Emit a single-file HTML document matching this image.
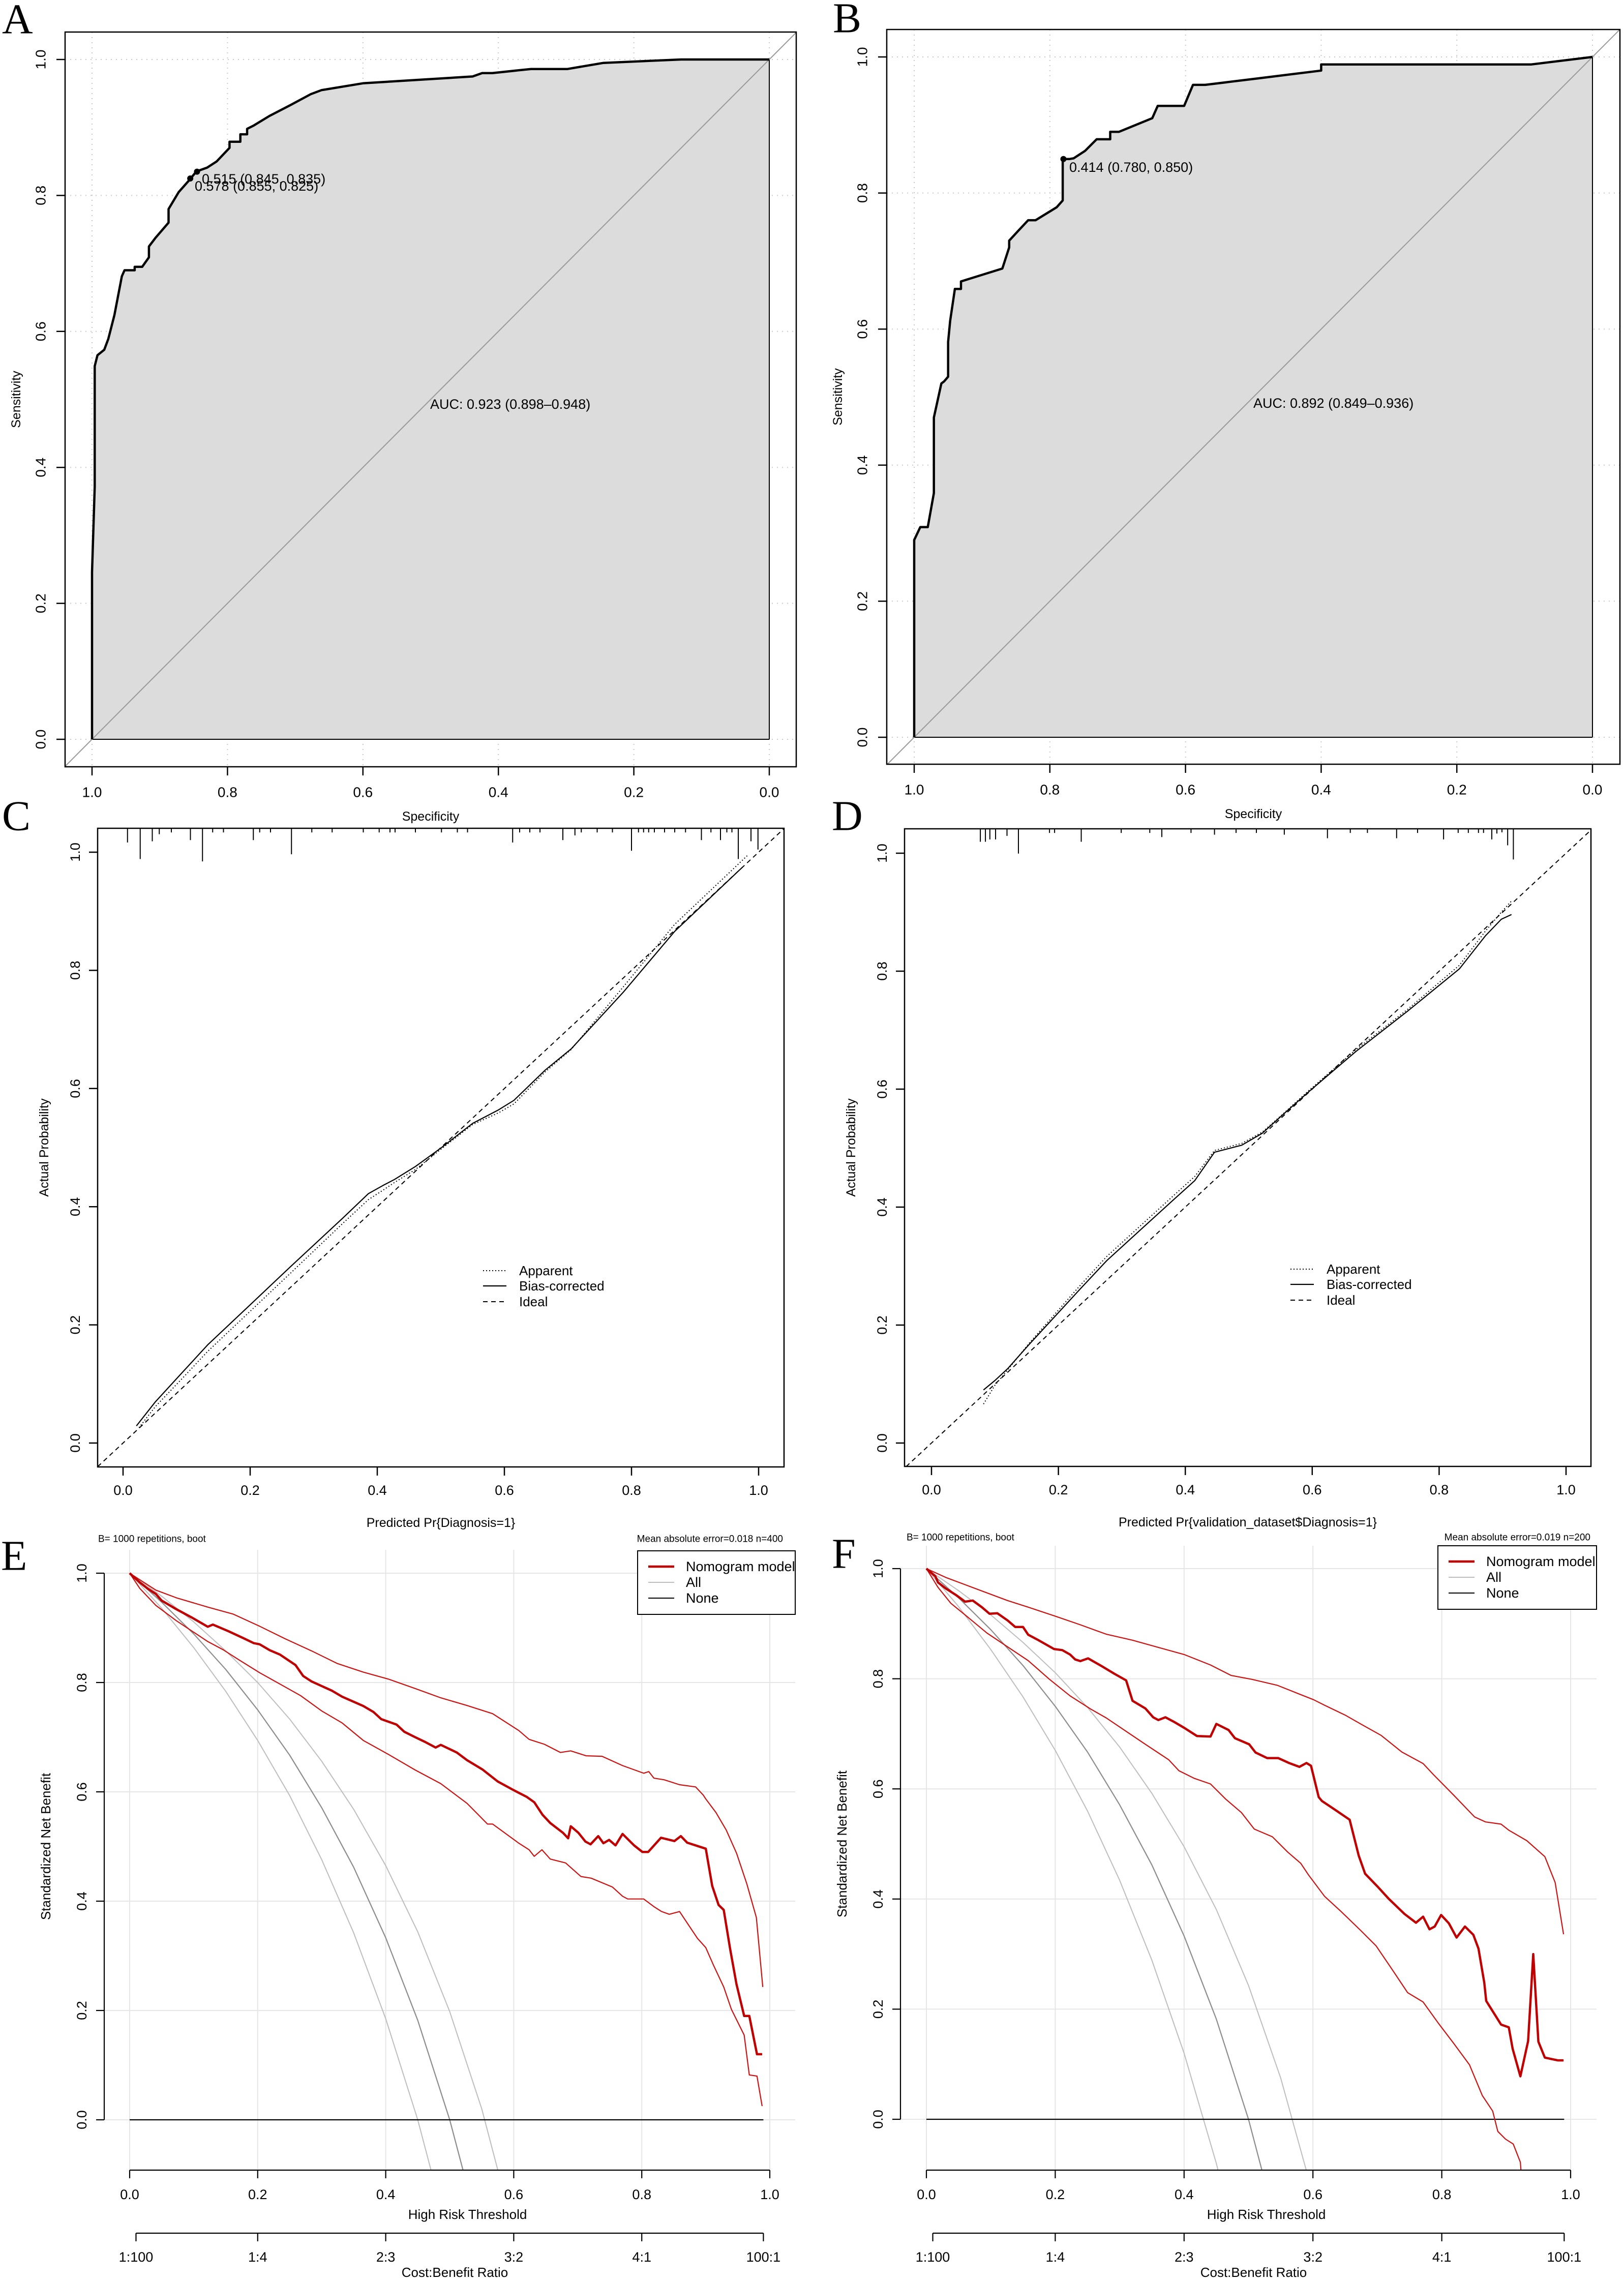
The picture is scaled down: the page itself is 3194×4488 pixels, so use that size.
<!DOCTYPE html>
<html><head><meta charset="utf-8"><style>
html,body{margin:0;padding:0;background:#fff;width:3194px;height:4488px;overflow:hidden;}
svg{display:block;font-family:"Liberation Sans",sans-serif;overflow:hidden;}
.pl{font-family:"Liberation Serif",serif;font-size:84px;}
</style></head><body>
<svg id="fig" width="3194" height="4488" viewBox="0 0 3194 4488" xmlns="http://www.w3.org/2000/svg"></svg>
<script>
// ---------- DATA ----------
const rocASpec=[1,1,0.996,0.996,0.992,0.982,0.976,0.967,0.956,0.952,0.937,0.937,0.926,0.916,0.916,0.906,0.887,0.887,0.872,0.856,0.847,0.841,0.830,0.816,0.797,0.797,0.781,0.781,0.771,0.771,0.761,0.738,0.707,0.677,0.661,0.600,0.438,0.424,0.409,0.352,0.298,0.245,0.130,0];
const rocASens=[0,0.246,0.372,0.549,0.565,0.573,0.589,0.624,0.681,0.690,0.690,0.695,0.695,0.709,0.725,0.738,0.760,0.780,0.805,0.823,0.834,0.837,0.841,0.850,0.870,0.879,0.879,0.890,0.890,0.898,0.903,0.917,0.933,0.949,0.955,0.965,0.975,0.980,0.980,0.986,0.986,0.995,1.0,1.0];
const rocBSpec=[1,1,0.991,0.980,0.971,0.971,0.960,0.956,0.950,0.950,0.947,0.940,0.931,0.931,0.870,0.860,0.860,0.847,0.832,0.821,0.790,0.781,0.781,0.771,0.765,0.748,0.731,0.711,0.711,0.698,0.649,0.641,0.602,0.589,0.571,0.489,0.400,0.400,0.090,0];
const rocBSens=[0,0.290,0.309,0.309,0.359,0.470,0.520,0.523,0.530,0.581,0.612,0.659,0.659,0.670,0.689,0.720,0.730,0.744,0.760,0.760,0.779,0.789,0.850,0.850,0.851,0.862,0.879,0.879,0.890,0.890,0.910,0.928,0.928,0.959,0.959,0.969,0.980,0.989,0.989,1.0];
const cPred=[0.021,0.051,0.092,0.133,0.199,0.264,0.346,0.386,0.409,0.427,0.460,0.501,0.550,0.591,0.615,0.664,0.705,0.787,0.868,0.975];
const cBias=[0.029,0.070,0.118,0.166,0.233,0.299,0.381,0.422,0.436,0.446,0.468,0.500,0.541,0.564,0.580,0.631,0.667,0.763,0.866,0.975];
const cAppPred=[0.025,0.051,0.092,0.133,0.199,0.264,0.346,0.386,0.409,0.427,0.460,0.501,0.550,0.591,0.615,0.664,0.705,0.787,0.868,0.982];
const cApp=[0.026,0.062,0.108,0.155,0.222,0.288,0.372,0.412,0.428,0.441,0.463,0.498,0.539,0.559,0.574,0.628,0.666,0.772,0.878,0.994];
const cRugX=[0.007,0.027,0.046,0.057,0.106,0.125,0.205,0.265,0.613,0.692,0.711,0.800,0.910,0.940,0.968,0.988,0.999,0.076,0.141,0.158,0.215,0.232,0.297,0.329,0.378,0.403,0.420,0.428,0.460,0.501,0.526,0.542,0.624,0.640,0.656,0.721,0.746,0.770,0.811,0.819,0.827,0.836,0.852,0.868,0.885,0.925,0.950,0.958];
const cRugH=[0.024,0.052,0.022,0.010,0.020,0.056,0.020,0.044,0.024,0.020,0.012,0.038,0.020,0.020,0.052,0.022,0.036,0.007,0.007,0.007,0.007,0.007,0.007,0.007,0.007,0.007,0.007,0.007,0.007,0.007,0.007,0.007,0.007,0.007,0.007,0.007,0.007,0.007,0.007,0.007,0.007,0.007,0.007,0.007,0.007,0.007,0.007,0.007];
const dPred=[0.082,0.100,0.120,0.153,0.194,0.235,0.276,0.333,0.382,0.415,0.446,0.489,0.521,0.554,0.595,0.669,0.750,0.832,0.873,0.898,0.914];
const dBias=[0.090,0.106,0.126,0.166,0.214,0.262,0.309,0.365,0.413,0.445,0.493,0.505,0.525,0.557,0.596,0.664,0.732,0.804,0.860,0.888,0.896];
const dApp=[0.066,0.098,0.124,0.168,0.218,0.268,0.316,0.372,0.420,0.452,0.496,0.508,0.527,0.558,0.598,0.667,0.735,0.810,0.868,0.900,0.919];
const dRugX=[0.077,0.085,0.092,0.101,0.119,0.137,0.236,0.363,0.446,0.556,0.624,0.733,0.807,0.883,0.891,0.899,0.908,0.917,0.186,0.194,0.299,0.344,0.409,0.480,0.512,0.660,0.687,0.766,0.830,0.846,0.862,0.870];
const dRugH=[0.022,0.022,0.018,0.018,0.012,0.042,0.022,0.014,0.010,0.010,0.016,0.016,0.018,0.018,0.008,0.006,0.028,0.052,0.007,0.007,0.007,0.007,0.007,0.007,0.007,0.007,0.007,0.007,0.007,0.007,0.007,0.007];
const allT=[0,0.05,0.1,0.15,0.2,0.25,0.3,0.35,0.4,0.45,0.5,0.55,0.6];
const allT1=[0,0.05,0.1,0.15,0.2,0.25,0.3,0.35,0.4,0.45,0.5,0.55];
const allT2=[0,0.05,0.1,0.15,0.2,0.25,0.3,0.35,0.4,0.45,0.5];
const allT3=[0,0.05,0.1,0.15,0.2,0.25,0.3,0.35,0.4,0.45,0.48];
const eAll=[1,0.947,0.889,0.824,0.75,0.667,0.571,0.462,0.333,0.182,0,-0.222];
const eAllLo=[1,0.936,0.864,0.784,0.694,0.593,0.476,0.342,0.185,0,-0.222];
const eAllHi=[1,0.958,0.911,0.858,0.80,0.733,0.656,0.568,0.465,0.344,0.198,0.020,-0.203];
const fAll=[1,0.947,0.889,0.824,0.75,0.667,0.571,0.462,0.333,0.182,0,-0.222];
const fAllLo=[1,0.931,0.853,0.767,0.67,0.56,0.434,0.289,0.12,-0.08,-0.22];
const fAllHi=[1,0.96,0.916,0.866,0.811,0.748,0.676,0.592,0.495,0.381,0.243,0.075,-0.136];
const eModT=[0,0.016,0.028,0.041,0.050,0.073,0.097,0.122,0.130,0.154,0.178,0.194,0.203,0.219,0.235,0.259,0.271,0.284,0.316,0.332,0.365,0.381,0.393,0.405,0.417,0.429,0.446,0.462,0.478,0.486,0.511,0.527,0.551,0.575,0.600,0.620,0.632,0.645,0.657,0.677,0.685,0.689,0.701,0.712,0.720,0.732,0.740,0.749,0.759,0.770,0.788,0.801,0.810,0.830,0.851,0.861,0.871,0.900,0.910,0.920,0.928,0.938,0.948,0.960,0.968,0.980,0.988];
const eModNB=[1,0.983,0.972,0.962,0.950,0.934,0.919,0.902,0.906,0.894,0.881,0.872,0.870,0.859,0.851,0.832,0.812,0.802,0.785,0.774,0.757,0.746,0.733,0.728,0.723,0.710,0.700,0.691,0.681,0.686,0.672,0.658,0.641,0.619,0.603,0.591,0.581,0.558,0.543,0.525,0.515,0.537,0.525,0.509,0.504,0.519,0.506,0.512,0.502,0.523,0.502,0.490,0.490,0.516,0.510,0.519,0.507,0.496,0.428,0.393,0.384,0.313,0.248,0.190,0.190,0.120,0.120];
const eUpT=[0,0.041,0.073,0.122,0.162,0.203,0.243,0.284,0.324,0.365,0.405,0.446,0.486,0.527,0.567,0.608,0.624,0.648,0.673,0.689,0.713,0.738,0.770,0.803,0.811,0.819,0.835,0.859,0.884,0.896,0.900,0.916,0.932,0.948,0.964,0.979,0.989];
const eUpNB=[1,0.969,0.955,0.938,0.925,0.903,0.880,0.858,0.835,0.819,0.806,0.789,0.772,0.758,0.743,0.712,0.696,0.687,0.672,0.675,0.666,0.665,0.648,0.634,0.637,0.625,0.622,0.613,0.609,0.594,0.587,0.562,0.530,0.488,0.432,0.370,0.243];
const eLoT=[0,0.016,0.041,0.073,0.122,0.146,0.170,0.203,0.235,0.267,0.300,0.332,0.365,0.405,0.446,0.486,0.527,0.559,0.567,0.608,0.624,0.632,0.644,0.657,0.681,0.705,0.721,0.754,0.770,0.778,0.803,0.819,0.831,0.843,0.859,0.875,0.887,0.900,0.912,0.928,0.940,0.960,0.968,0.980,0.988];
const eLoNB=[1,0.972,0.941,0.913,0.875,0.860,0.842,0.818,0.797,0.776,0.748,0.726,0.694,0.668,0.640,0.615,0.579,0.541,0.541,0.506,0.494,0.482,0.494,0.477,0.470,0.445,0.442,0.426,0.409,0.404,0.404,0.390,0.381,0.376,0.381,0.353,0.332,0.315,0.283,0.243,0.202,0.155,0.082,0.080,0.025];
const fModT=[0,0.014,0.018,0.030,0.046,0.060,0.072,0.086,0.098,0.110,0.126,0.138,0.150,0.158,0.174,0.198,0.211,0.223,0.231,0.239,0.251,0.272,0.292,0.310,0.320,0.340,0.352,0.360,0.371,0.384,0.400,0.420,0.441,0.450,0.469,0.479,0.501,0.511,0.529,0.546,0.563,0.579,0.590,0.597,0.609,0.614,0.632,0.657,0.671,0.681,0.700,0.718,0.742,0.760,0.771,0.781,0.789,0.799,0.811,0.823,0.836,0.849,0.857,0.866,0.869,0.892,0.904,0.910,0.922,0.934,0.942,0.950,0.960,0.980,0.989];
const fModNB=[1,0.986,0.975,0.964,0.952,0.940,0.942,0.930,0.918,0.919,0.906,0.894,0.894,0.880,0.870,0.854,0.852,0.844,0.835,0.832,0.837,0.823,0.809,0.797,0.760,0.746,0.730,0.725,0.730,0.722,0.711,0.696,0.695,0.718,0.707,0.692,0.681,0.666,0.656,0.656,0.647,0.640,0.647,0.642,0.585,0.578,0.564,0.544,0.479,0.446,0.423,0.400,0.373,0.357,0.368,0.345,0.350,0.371,0.356,0.330,0.350,0.335,0.310,0.248,0.215,0.172,0.167,0.128,0.078,0.142,0.300,0.141,0.112,0.107,0.107];
const fUpT=[0,0.030,0.062,0.094,0.126,0.158,0.199,0.239,0.279,0.320,0.360,0.400,0.441,0.473,0.505,0.545,0.577,0.601,0.618,0.650,0.674,0.706,0.738,0.771,0.787,0.819,0.851,0.868,0.892,0.904,0.932,0.960,0.976,0.989];
const fUpNB=[1,0.984,0.970,0.956,0.942,0.930,0.914,0.898,0.881,0.870,0.857,0.844,0.825,0.806,0.799,0.788,0.773,0.762,0.752,0.734,0.718,0.697,0.667,0.646,0.626,0.588,0.549,0.540,0.536,0.525,0.506,0.477,0.430,0.336];
const fLoT=[0,0.018,0.038,0.062,0.094,0.126,0.158,0.191,0.223,0.255,0.279,0.312,0.336,0.376,0.392,0.416,0.441,0.465,0.489,0.509,0.537,0.561,0.581,0.593,0.618,0.644,0.674,0.698,0.723,0.747,0.771,0.795,0.819,0.843,0.863,0.879,0.887,0.899,0.911,0.922,0.923];
const fLoNB=[1,0.966,0.937,0.914,0.883,0.858,0.833,0.799,0.769,0.745,0.729,0.703,0.684,0.653,0.633,0.619,0.609,0.581,0.557,0.527,0.513,0.485,0.465,0.444,0.405,0.377,0.343,0.315,0.272,0.230,0.213,0.174,0.137,0.099,0.043,0.015,-0.022,-0.036,-0.045,-0.078,-0.093];
const specTicks=[1.0,0.8,0.6,0.4,0.2,0.0];
const unitTicks=[0.0,0.2,0.4,0.6,0.8,1.0];
const costT=[0.0099,0.2,0.4,0.6,0.8,0.99];
const costLabels=["1:100","1:4","2:3","3:2","4:1","100:1"];

// ---------- HELPERS ----------
const NS="http://www.w3.org/2000/svg";
const svg=document.getElementById('fig');
function mk(tag,attrs,name,parent){
  const el=document.createElementNS(NS,tag);
  for(const k in attrs) el.setAttribute(k,attrs[k]);
  
  
  (parent||svg).appendChild(el);
  return el;
}
function txt(x,y,s,size,name,opts){
  opts=opts||{};
  const a={x:x,y:y,'font-size':size,'text-anchor':opts.anchor||'middle','dominant-baseline':'central',fill:opts.fill||'#000'};
  if(opts.rot) a.transform='rotate(-90 '+x+' '+y+')';
  if(opts.cls) a['class']=opts.cls;
  const t=mk('text',a,name,opts.parent);
  t.textContent=s;return t;
}
function line(x1,y1,x2,y2,st,w,name,extra,parent){
  const a={x1:x1,y1:y1,x2:x2,y2:y2,stroke:st,'stroke-width':w};
  for(const k in (extra||{})) a[k]=extra[k];
  return mk('line',a,name,parent);
}
function poly(xs,ys,fx,fy,st,w,name,extra,parent){
  const pts=xs.map((v,i)=>fx(v).toFixed(1)+','+fy(ys[i]).toFixed(1)).join(' ');
  const a={points:pts,fill:'none',stroke:st,'stroke-width':w,'stroke-linejoin':'round'};
  for(const k in (extra||{})) a[k]=extra[k];
  return mk('polyline',a,name,parent);
}
function clip(id,x,y,w,h){
  const c=mk('clipPath',{id:id},id);
  mk('rect',{x:x,y:y,width:w,height:h},id+'-rect',c);
  return 'url(#'+id+')';
}

// ---------- ROC PANELS ----------
function roc(cfg){
  const g=mk('g',{},cfg.name);
  const fx=s=>cfg.x1+(1-s)*(cfg.x0-cfg.x1), fy=v=>cfg.y0-v*(cfg.y0-cfg.y1);
  const [bl,bt,br,bb]=cfg.box;
  unitTicks.forEach(v=>{
    line(bl,fy(v),br,fy(v),'#c8c8c8',2,'grid-h',{'stroke-dasharray':'2 8'},g);
    line(fx(v),bt,fx(v),bb,'#c8c8c8',2,'grid-v',{'stroke-dasharray':'2 8'},g);
  });
  const pts=cfg.spec.map((s,i)=>fx(s).toFixed(1)+','+fy(cfg.sens[i]).toFixed(1)).join(' ');
  mk('polygon',{points:pts+' '+fx(0)+','+fy(0),fill:'#dcdcdc',stroke:'none'},'auc-area',g);
  mk('line',{x1:fx(1),y1:fy(0),x2:fx(0),y2:fy(0),stroke:'#000','stroke-width':2},'area-bottom',g);
  mk('line',{x1:fx(0),y1:fy(0),x2:fx(0),y2:fy(1),stroke:'#000','stroke-width':2},'area-right',g);
  const cp=clip(cfg.name+'-clip',bl,bt,br-bl,bb-bt);
  line(fx(1.04),fy(-0.04),fx(-0.04),fy(1.04),'#999',2,'chance-diagonal',{'clip-path':cp},g);
  poly(cfg.spec,cfg.sens,fx,fy,'#000',4.5,'roc-curve',{},g);
  mk('rect',{x:bl,y:bt,width:br-bl,height:bb-bt,fill:'none',stroke:'#000','stroke-width':2.5},'plot-box',g);
  specTicks.forEach(v=>{
    line(fx(v),bb,fx(v),bb+17,'#000',2.5,'x-tick',{},g);
    txt(fx(v),bb+50,v.toFixed(1),28,'x-tick-label',{parent:g});
    line(bl-17,fy(1-v),bl,fy(1-v),'#000',2.5,'y-tick',{},g);
    txt(bl-48,fy(1-v),(1-v).toFixed(1),28,'y-tick-label',{rot:true,parent:g});
  });
  txt((bl+br)/2,bb+98,'Specificity',25,'x-axis-title',{parent:g});
  txt(bl-96,(bt+bb)/2,'Sensitivity',25,'y-axis-title',{rot:true,parent:g});
  cfg.pts.forEach(p=>{
    mk('circle',{cx:fx(p[0]),cy:fy(p[1]),r:6,fill:'#000'},'threshold-point',g);
    txt(p[2],p[3],p[4],27,'threshold-label',{anchor:'start',parent:g});
  });
  txt(cfg.aucX,cfg.aucY,cfg.auc,27,'auc-label',{anchor:'start',parent:g});
  txt(cfg.lx,cfg.ly,cfg.letter,84,'panel-label',{cls:'pl',anchor:'start',parent:g});
}
roc({name:'panel-a',box:[128,63,1566,1508],x1:181,x0:1513,y0:1454,y1:117,spec:rocASpec,sens:rocASens,
  pts:[[0.845,0.835,397,352,'0.515 (0.845, 0.835)'],[0.855,0.825,383,366,'0.578 (0.855, 0.825)']],
  auc:'AUC: 0.923 (0.898–0.948)',aucX:846,aucY:795,letter:'A',lx:4,ly:38});
roc({name:'panel-b',box:[1744,58,3186,1503],x1:1798,x0:3132,y0:1450,y1:112,spec:rocBSpec,sens:rocBSens,
  pts:[[0.780,0.850,2103,329,'0.414 (0.780, 0.850)']],
  auc:'AUC: 0.892 (0.849–0.936)',aucX:2465,aucY:793,letter:'B',lx:1638,ly:36});

// ---------- CALIBRATION PANELS ----------
function calib(cfg){
  const g=mk('g',{},cfg.name);
  const fx=v=>cfg.x0+v*(cfg.x1-cfg.x0), fy=v=>cfg.y0-v*(cfg.y0-cfg.y1);
  const [bl,bt,br,bb]=cfg.box;
  const cp=clip(cfg.name+'-clip',bl,bt,br-bl,bb-bt);
  line(fx(-0.04),fy(-0.04),fx(1.04),fy(1.04),'#000',2,'ideal-line',{'stroke-dasharray':'9 7','clip-path':cp},g);
  poly(cfg.appX,cfg.app,fx,fy,'#000',2,'apparent-line',{'stroke-dasharray':'2 4'},g);
  poly(cfg.pred,cfg.bias,fx,fy,'#000',2.2,'bias-corrected-line',{},g);
  cfg.rugX.forEach((v,i)=>{
    line(fx(v),bt,fx(v),bt+cfg.rugH[i]*(cfg.y0-cfg.y1),'#000',2,'rug-tick',{},g);
  });
  mk('rect',{x:bl,y:bt,width:br-bl,height:bb-bt,fill:'none',stroke:'#000','stroke-width':2.5},'plot-box',g);
  unitTicks.forEach(v=>{
    line(fx(v),bb,fx(v),bb+17,'#000',2.5,'x-tick',{},g);
    txt(fx(v),bb+46,v.toFixed(1),27,'x-tick-label',{parent:g});
    line(bl-17,fy(v),bl,fy(v),'#000',2.5,'y-tick',{},g);
    txt(bl-44,fy(v),v.toFixed(1),27,'y-tick-label',{rot:true,parent:g});
  });
  txt((bl+br)/2,bb+110,cfg.xlab,25,'x-axis-title',{parent:g});
  txt(bl-105,(bt+bb)/2,'Actual Probability',25,'y-axis-title',{rot:true,parent:g});
  const lg=mk('g',{},'legend',g);
  const L=cfg.leg;
  line(L[0],L[1],L[0]+46,L[1],'#000',2,'legend-apparent-swatch',{'stroke-dasharray':'2 4'},lg);
  line(L[0],L[1]+30,L[0]+46,L[1]+30,'#000',2.2,'legend-bias-swatch',{},lg);
  line(L[0],L[1]+61,L[0]+46,L[1]+61,'#000',2,'legend-ideal-swatch',{'stroke-dasharray':'9 7'},lg);
  txt(L[0]+71,L[1],'Apparent',26,'legend-apparent',{anchor:'start',parent:lg});
  txt(L[0]+71,L[1]+30,'Bias-corrected',26,'legend-bias',{anchor:'start',parent:lg});
  txt(L[0]+71,L[1]+61,'Ideal',26,'legend-ideal',{anchor:'start',parent:lg});
  txt(cfg.lx,cfg.ly,cfg.letter,84,'panel-label',{cls:'pl',anchor:'start',parent:g});
}
calib({name:'panel-c',box:[192,1629,1542,2885],x0:242,x1:1492,y0:2838,y1:1676,pred:cPred,bias:cBias,appX:cAppPred,app:cApp,
  rugX:cRugX,rugH:cRugH,xlab:'Predicted Pr{Diagnosis=1}',leg:[950,2499],letter:'C',lx:4,ly:1605});
calib({name:'panel-d',box:[1779,1630,3129,2884],x0:1832,x1:3080,y0:2838,y1:1678,pred:dPred,bias:dBias,appX:dPred,app:dApp,
  rugX:dRugX,rugH:dRugH,xlab:'Predicted Pr{validation_dataset$Diagnosis=1}',leg:[2538,2496],letter:'D',lx:1636,ly:1605});

// ---------- DCA PANELS ----------
function dca(cfg){
  const g=mk('g',{},cfg.name);
  const fx=t=>cfg.x0+t*(cfg.x1-cfg.x0), fy=v=>cfg.y0-v*(cfg.y0-cfg.y1);
  const axY=cfg.axY, left=cfg.yAxX, right=cfg.right;
  unitTicks.forEach(v=>{
    line(left,fy(v),right,fy(v),'#e6e6e6',2,'grid-h',{},g);
    line(fx(v),cfg.top,fx(v),axY,'#e6e6e6',2,'grid-v',{},g);
  });
  const cp=clip(cfg.name+'-clip',left,cfg.top,right-left,axY-cfg.top);
  poly(cfg.loT2,cfg.allLo,fx,fy,'#bdbdbd',2,'all-ci-lower',{'clip-path':cp},g);
  poly(allT,cfg.allHi,fx,fy,'#bdbdbd',2,'all-ci-upper',{'clip-path':cp},g);
  poly(allT1,cfg.all,fx,fy,'#8c8c8c',2.2,'all-line',{'clip-path':cp},g);
  line(fx(0),fy(0),fx(0.99),fy(0),'#000',2.2,'none-line',{},g);
  poly(cfg.upT,cfg.up,fx,fy,'#cc1111',2.2,'model-ci-upper',{'clip-path':cp},g);
  poly(cfg.loT,cfg.lo,fx,fy,'#cc1111',2.2,'model-ci-lower',{'clip-path':cp},g);
  poly(cfg.modT,cfg.mod,fx,fy,'#c00000',4.5,'nomogram-line',{'clip-path':cp},g);
  line(left,fy(0),left,fy(1),'#000',2.2,'y-axis',{},g);
  line(fx(0),axY,fx(1),axY,'#000',2.2,'x-axis',{},g);
  unitTicks.forEach(v=>{
    line(left-16,fy(v),left,fy(v),'#000',2.2,'y-tick',{},g);
    txt(left-44,fy(v),v.toFixed(1),27,'y-tick-label',{rot:true,parent:g});
    line(fx(v),axY,fx(v),axY+16,'#000',2.2,'x-tick',{},g);
    txt(fx(v),axY+48,v.toFixed(1),27,'x-tick-label',{parent:g});
  });
  txt((fx(0)+fx(1))/2+35,axY+87,'High Risk Threshold',26,'x-axis-title',{parent:g});
  const cy=axY+124;
  line(fx(costT[0]),cy,fx(costT[5]),cy,'#000',2.2,'cost-axis',{},g);
  costT.forEach((v,i)=>{
    line(fx(v),cy,fx(v),cy+16,'#000',2.2,'cost-tick',{},g);
    txt(fx(v),cy+47,costLabels[i],27,'cost-tick-label',{parent:g});
  });
  txt((fx(0)+fx(1))/2+10,cy+77,'Cost:Benefit Ratio',26,'cost-axis-title',{parent:g});
  txt(left-115,(fy(0)+fy(1))/2,'Standardized Net Benefit',26,'y-axis-title',{rot:true,parent:g});
  txt(cfg.bx,cfg.topTxt,'B= 1000 repetitions, boot',19,'boot-note',{anchor:'start',parent:g});
  txt(cfg.mx,cfg.topTxt,cfg.mae,19,'mae-note',{anchor:'end',parent:g});
  const L=cfg.leg, lg=mk('g',{},'legend',g);
  mk('rect',{x:L[0],y:L[1],width:L[2],height:L[3],fill:'#fff',stroke:'#000','stroke-width':2},'legend-box',lg);
  const r0=L[1]+31;
  line(L[0]+21,r0,L[0]+72,r0,'#c00000',4.5,'legend-nomogram-swatch',{},lg);
  line(L[0]+21,r0+31,L[0]+72,r0+31,'#bdbdbd',2,'legend-all-swatch',{},lg);
  line(L[0]+21,r0+62,L[0]+72,r0+62,'#000',2,'legend-none-swatch',{},lg);
  txt(L[0]+95,r0,'Nomogram model',27,'legend-nomogram',{anchor:'start',parent:lg});
  txt(L[0]+95,r0+31,'All',27,'legend-all',{anchor:'start',parent:lg});
  txt(L[0]+95,r0+62,'None',27,'legend-none',{anchor:'start',parent:lg});
  txt(cfg.lx,cfg.ly,cfg.letter,84,'panel-label',{cls:'pl',anchor:'start',parent:g});
}
dca({name:'panel-e',x0:255,x1:1514,y0:4169,y1:3094,axY:4268,yAxX:205,right:1564,top:3048,
  all:eAll,allLo:eAllLo,loT2:allT2,allHi:eAllHi,modT:eModT,mod:eModNB,upT:eUpT,up:eUpNB,loT:eLoT,lo:eLoNB,
  bx:193,mx:1540,topTxt:3027,mae:'Mean absolute error=0.018 n=400',leg:[1254,3050,310,125],letter:'E',lx:2,ly:3060});
dca({name:'panel-f',x0:1822,x1:3089,y0:4168,y1:3085,axY:4268,yAxX:1771,right:3140,top:3040,
  all:fAll,allLo:fAllLo,loT2:allT3,allHi:fAllHi,modT:fModT,mod:fModNB,upT:fUpT,up:fUpNB,loT:fLoT,lo:fLoNB,
  bx:1783,mx:3128,topTxt:3024,mae:'Mean absolute error=0.019 n=200',leg:[2828,3040,312,125],letter:'F',lx:1636,ly:3056});
</script>
</body></html>
